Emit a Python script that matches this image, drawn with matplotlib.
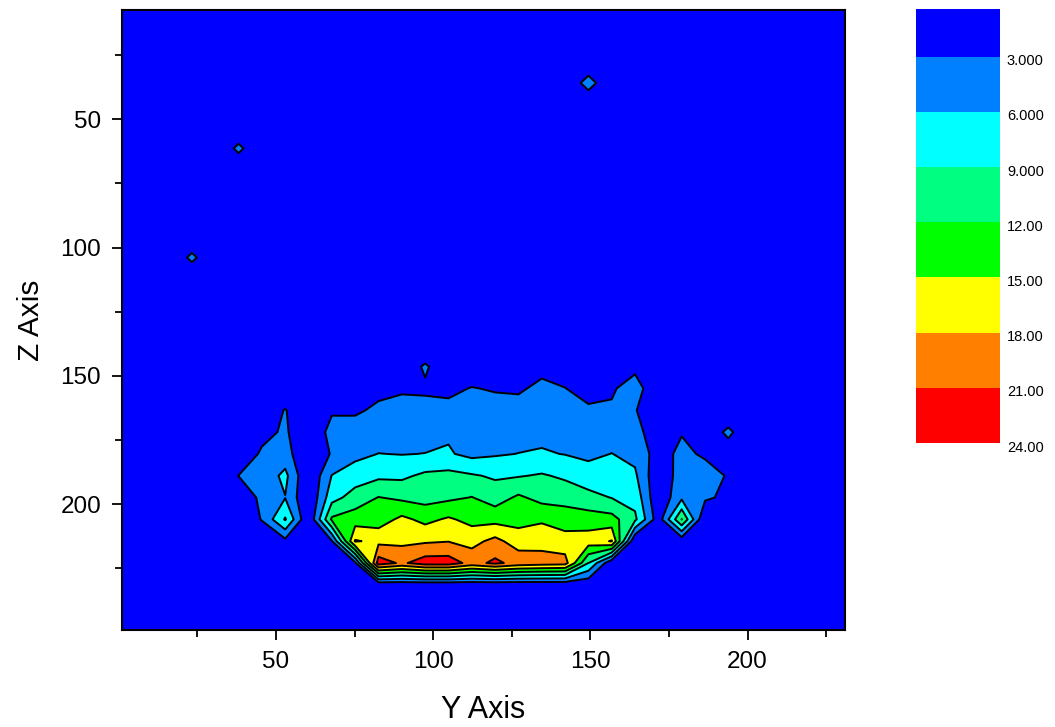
import numpy as np
import matplotlib.pyplot as plt
from matplotlib.ticker import MultipleLocator
from matplotlib.transforms import ScaledTranslation

plt.rcParams["font.family"] = ["Liberation Sans", "DejaVu Sans"]

# measurement grid: Y Axis columns, Z Axis rows
y_grid = np.linspace(1, 231, 32)
z_grid = np.linspace(1.9, 256.9, 31)

levels = [0, 3, 6, 9, 12, 15, 18, 21, 24]
level_labels = ["3.000", "6.000", "9.000", "12.00", "15.00", "18.00", "21.00", "24.00"]
level_colors = ["#0000ff", "#0080ff", "#00ffff", "#00ff80",
                "#00ff00", "#ffff00", "#ff8000", "#ff0000"]

# central hot region, rows 16-27, columns 8-23
blob_row0, blob_col0 = 16, 8
blob = [
    [0, 0, 0, 0, 0, 0, 0, 0, 0, 0, 0.5, 0, 0, 0, 0.5, 0],
    [0, 0.5, 0.5, 0.6, 0.6, 3.5, 0.5, 1.5, 1.8, 1.5, 2.4, 1.8, 1.0, 1.0, 2.4, 0.5],
    [0, 0.8, 0.8, 2.3, 2.7, 2.5, 2.5, 3.1, 2.8, 2.7, 3.5, 3.05, 2.0, 2.7, 4.1, 1.0],
    [0, 2.6, 2.6, 3.5, 3.8, 4.0, 3.6, 3.8, 3.9, 3.8, 4.3, 3.9, 3.4, 3.3, 3.2, 0.5],
    [0, 4.2, 4.2, 4.5, 4.8, 4.9, 5.6, 4.6, 4.8, 4.9, 5.2, 4.8, 4.4, 4.7, 4.4, 0.5],
    [0, 3.3, 5.2, 6.05, 5.9, 6.05, 6.3, 5.2, 5.7, 6.05, 6.3, 5.9, 5.4, 6.05, 5.2, 1.6],
    [0, 6.1, 7.5, 8.4, 8.4, 9.6, 9.9, 9.3, 8.6, 8.8, 9.3, 8.5, 7.2, 7.4, 6.5, 0.45],
    [0, 7.9, 10.3, 12.1, 11.4, 10.9, 11.4, 12.1, 10.6, 12.5, 11.0, 10.9, 10.0, 8.9, 8.0, 0.4],
    [0.2, 12.5, 13.5, 13.5, 15.7, 14.2, 15.4, 14.1, 14.0, 14.0, 14.6, 13.6, 13.4, 13.1, 9.6, 1.3],
    [0, 2.8, 18.3, 17.2, 17.3, 17.6, 17.9, 17.0, 18.9, 16.5, 16.8, 16.2, 16.5, 18.2, 0, 0],
    [0, 0, 2.5, 22.5, 20.5, 22.5, 22.5, 20.0, 21.6, 20.0, 19.5, 19.2, 9.0, 0.5, 0, 0],
    [0, 0, 0, 0.5, 0.5, 0.5, 0.5, 0.5, 0.5, 0.5, 0.5, 0.5, 0.5, 0, 0, 0],
]

# left lobe, rows 19-25, columns 5-7
left_row0, left_col0 = 19, 5
left_lobe = [
    [0, 0.5, 3.2],
    [0, 2.0, 3.5],
    [0.5, 3.5, 4.3],
    [3.05, 4.0, 6.8],
    [0.5, 3.8, 5.9],
    [0, 3.2, 9.3],
    [0, 0, 2.15],
]

# right lobe, rows 19-25, columns 24-26
right_row0, right_col0 = 19, 24
right_lobe = [
    [0, 0, 0],
    [2.8, 0.5, 3.8],
    [3.8, 2.5, 1.0],
    [4.5, 4.5, 2.7],
    [5.4, 3.5, 2.3],
    [12.1, 0, 0],
    [0.9, 0, 0],
]

# isolated single points: (column, row, value)
spots = [(3, 12, 3.8), (5, 7, 3.8), (20, 4, 4.5)]

values = np.zeros((len(z_grid), len(y_grid)))
for block, r0, c0 in [(blob, blob_row0, blob_col0),
                      (left_lobe, left_row0, left_col0),
                      (right_lobe, right_row0, right_col0)]:
    arr = np.array(block)
    values[r0:r0 + arr.shape[0], c0:c0 + arr.shape[1]] = arr
for c, r, v in spots:
    values[r, c] = v

fig = plt.figure(figsize=(10.55, 7.27), dpi=100)
ax = fig.add_axes([0.1156, 0.1334, 0.6853, 0.8528])

cf = ax.contourf(y_grid, z_grid, values, levels=levels, colors=level_colors)
ax.contour(y_grid, z_grid, values, levels=levels[1:-1], colors="black", linewidths=1.4)

ax.set_xlim(1, 231)
ax.set_ylim(249, 7.5)
ax.xaxis.set_major_locator(MultipleLocator(50))
ax.xaxis.set_minor_locator(MultipleLocator(25))
ax.yaxis.set_major_locator(MultipleLocator(50))
ax.yaxis.set_minor_locator(MultipleLocator(25))
ax.tick_params(which="major", length=7, width=1.3, labelsize=17.5, pad=8)
ax.tick_params(which="minor", length=5, width=1.3)
for s in ax.spines.values():
    s.set_linewidth(1.5)
ax.set_xlabel("Y Axis", fontsize=22, labelpad=16)
ax.set_ylabel("Z Axis", fontsize=21.5, labelpad=11)

# colour scale, top band partly cut off as in the original
cax = fig.add_axes([916 / 1055, 1 - 443 / 727, 84 / 1055, 434 / 727])
cb = fig.colorbar(cf, cax=cax)
cb.outline.set_visible(False)
cb.set_ticks(levels[1:])
cb.set_ticklabels(level_labels)
cax.set_ylim(24, 0.4)
cax.tick_params(length=0, labelsize=10.5, pad=5)
shift = ScaledTranslation(0, -3 / 100, fig.dpi_scale_trans)
for lbl in cax.get_yticklabels():
    lbl.set_transform(lbl.get_transform() + shift)

fig.savefig("out.png", dpi=100)
